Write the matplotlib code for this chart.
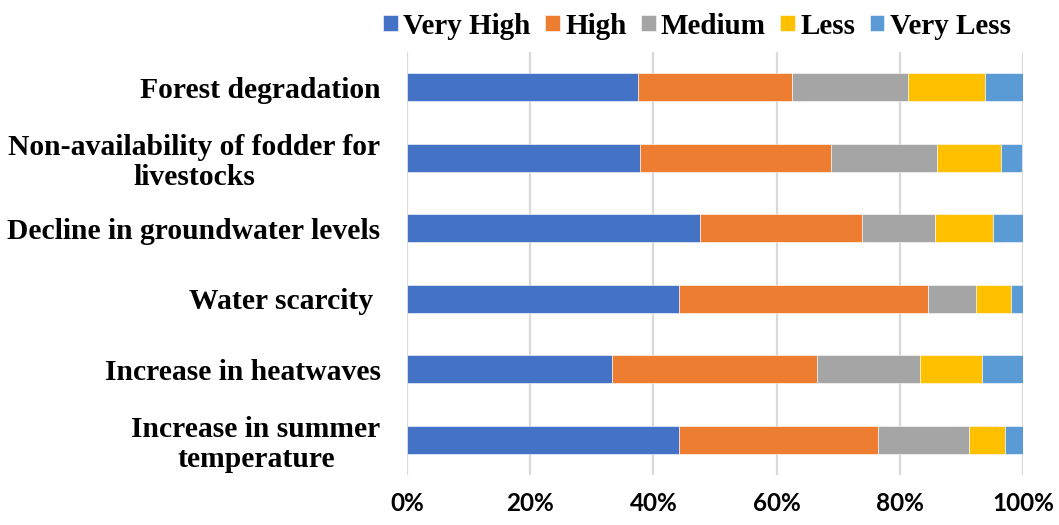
import os
import matplotlib
matplotlib.use("Agg")
import matplotlib.pyplot as plt
from matplotlib import font_manager
import numpy as np

categories = [
    "Forest degradation",
    "Non-availability of fodder for\nlivestocks",
    "Decline in groundwater levels",
    "Water scarcity ",
    "Increase in heatwaves",
    "Increase in summer\ntemperature",
]
levels = ["Very High", "High", "Medium", "Less", "Very Less"]
very_high = [37.5, 37.9, 47.6, 44.2, 33.3, 44.1]
high = [25.0, 31.0, 26.2, 40.4, 33.3, 32.4]
medium = [18.8, 17.2, 11.9, 7.7, 16.7, 14.7]
less = [12.5, 10.3, 9.5, 5.8, 10.0, 5.9]
very_less = [6.2, 3.4, 4.8, 1.9, 6.7, 2.9]
x_ticks = [0, 20, 40, 60, 80, 100]
x_tick_labels = ["0%", "20%", "40%", "60%", "80%", "100%"]

colors = ["#4472C4", "#ED7D31", "#A5A5A5", "#FFC000", "#5B9BD5"]
series = [very_high, high, medium, less, very_less]

serif_path = "/usr/share/fonts/truetype/liberation/LiberationSerif-Bold.ttf"


def serif(size):
    if os.path.exists(serif_path):
        return font_manager.FontProperties(fname=serif_path, size=size)
    return font_manager.FontProperties(family="serif", weight="bold",
                                       size=size)


fig = plt.figure(figsize=(10.59, 5.25), dpi=100)
ax = fig.add_axes([407 / 1059, 1 - 475 / 525, 616 / 1059, 423 / 525])

ypos = np.arange(len(categories))
left = np.zeros(len(categories))
handles = []
for vals, col, name in zip(series, colors, levels):
    vals = np.array(vals)
    b = ax.barh(ypos, vals, left=left, height=0.4, color=col,
                edgecolor="white", linewidth=0.4, label=name, zorder=3)
    handles.append(b)
    left += vals

ax.set_xlim(0, 100)
ax.set_ylim(len(categories) - 0.5, -0.5)
ax.set_xticks(x_ticks)
ax.set_xticklabels(x_tick_labels, fontfamily="Lato", fontweight="bold",
                   fontsize=17.5)
ax.set_yticks(ypos)
ax.set_yticklabels(categories)
for lbl in ax.get_yticklabels():
    lbl.set_fontproperties(serif(21.3))
    lbl.set_multialignment("center")
    lbl.set_linespacing(1.15)
ax.tick_params(axis="x", length=0, pad=12)
ax.tick_params(axis="y", length=0, pad=19)
ax.xaxis.grid(True, color="#D9D9D9", linewidth=1.6, zorder=0)
ax.set_axisbelow(True)
for s in ax.spines.values():
    s.set_visible(False)

fig.legend(handles=handles, labels=levels, loc="center", ncol=5,
           bbox_to_anchor=(697 / 1059, 1 - 26 / 525), frameon=False,
           prop=serif(21),
           handlelength=0.5, handleheight=0.5, handletextpad=0.18,
           columnspacing=0.5, borderaxespad=0)

fig.savefig("out.png", dpi=100)
